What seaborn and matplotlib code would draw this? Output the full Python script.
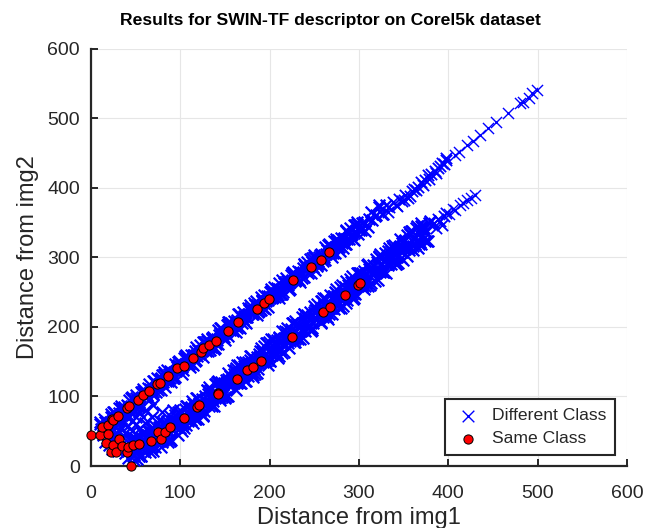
import matplotlib
matplotlib.use("Agg")
import matplotlib.pyplot as plt
import pandas as pd
import seaborn as sns

# "Different Class" pairs, upper band (several passes along the band)
upper_x = [10, 14, 18, 22, 26, 30, 34, 38, 42, 46, 50, 54, 58, 62, 66, 70, 74, 78, 82, 86,
           90, 94, 98, 102, 106, 110, 114, 118, 122, 126, 130, 134, 138, 142, 146, 150, 154, 158, 162, 166,
           170, 174, 178, 182, 186, 190, 194, 198, 202, 206, 210, 214, 218, 222, 226, 230, 234, 238, 242, 246,
           250, 254, 258, 262, 266, 270, 274, 278, 282, 286, 290, 294, 298, 302, 306, 310, 314, 318, 322, 326, 330]
upper_y = [60, 51, 63, 56, 78, 71, 84, 75, 87, 80, 102, 95, 108, 99, 111, 104, 126, 119, 132, 123,
           135, 128, 150, 143, 156, 147, 159, 152, 174, 167, 180, 171, 183, 176, 198, 191, 204, 195, 207, 200,
           222, 215, 228, 219, 231, 224, 246, 239, 252, 243, 255, 248, 270, 263, 276, 267, 279, 272, 294, 287,
           300, 291, 303, 296, 318, 311, 324, 315, 327, 320, 342, 335, 348, 339, 351, 344, 366, 359, 372, 363, 375]

upper2_x = [12, 16, 20, 24, 28, 32, 36, 40, 44, 48, 52, 56, 60, 64, 68, 72, 76, 80, 84, 88,
            92, 96, 100, 104, 108, 112, 116, 120, 124, 128, 132, 136, 140, 144, 148, 152, 156, 160, 164, 168,
            172, 176, 180, 184, 188, 192, 196, 200, 204, 208, 212, 216, 220, 224, 228, 232, 236, 240, 244, 248,
            252, 256, 260, 264, 268, 272, 276, 280, 284, 288, 292, 296, 300]
upper2_y = [51, 64, 55, 71, 70, 83, 75, 88, 79, 95, 94, 107, 99, 112, 103, 119, 118, 131, 123, 136,
            127, 143, 142, 155, 147, 160, 151, 167, 166, 179, 171, 184, 175, 191, 190, 203, 195, 208, 199, 215,
            214, 227, 219, 232, 223, 239, 238, 251, 243, 256, 247, 263, 262, 275, 267, 280, 271, 287, 286, 299,
            291, 304, 295, 311, 310, 323, 315, 328, 319, 335, 334, 347, 339]

upper3_x = [11, 15, 19, 23, 27, 31, 35, 39, 43, 47, 51, 55, 59, 63, 67, 71, 75, 79, 83, 87,
            91, 95, 99, 103, 107, 111, 115, 119, 123, 127, 131, 135, 139, 143, 147, 151, 155, 159, 163, 167,
            171, 175, 179, 183, 187, 191, 195, 199, 203, 207, 211, 215, 219, 223, 227, 231, 235, 239, 243, 247,
            251, 255, 259, 263, 267, 271, 275, 279, 283, 287, 291, 295, 299, 303, 307, 311, 315, 319, 323, 327]
upper3_y = [53, 67, 54, 70, 58, 76, 74, 81, 95, 82, 98, 86, 104, 102, 109, 123, 110, 126, 114, 132,
            130, 137, 151, 138, 154, 142, 160, 158, 165, 179, 166, 182, 170, 188, 186, 193, 207, 194, 210, 198,
            216, 214, 221, 235, 222, 238, 226, 244, 242, 249, 263, 250, 266, 254, 272, 270, 277, 291, 278, 294,
            282, 300, 298, 305, 319, 306, 322, 310, 328, 326, 333, 347, 334, 350, 338, 356, 354, 361, 375, 362]

upper4_x = [13, 17, 21, 25, 29, 33, 37, 41, 45, 49, 53, 57, 61, 65, 69, 73, 77, 81, 85, 89,
            93, 97, 101, 105, 109, 113, 117, 121, 125, 129, 133, 137, 141, 145, 149, 153, 157, 161, 165, 169,
            173, 177, 181, 185, 189, 193, 197, 201, 205, 209, 213, 217, 221, 225, 229, 233, 237, 241, 245, 249,
            253, 257, 261, 265, 269, 273, 277, 281, 285, 289, 293, 297, 301]
upper4_y = [47, 65, 61, 78, 66, 67, 85, 81, 98, 86, 87, 105, 101, 118, 106, 107, 125, 121, 138, 126,
            127, 145, 141, 158, 146, 147, 165, 161, 178, 166, 167, 185, 181, 198, 186, 187, 205, 201, 218, 206,
            207, 225, 221, 238, 226, 227, 245, 241, 258, 246, 247, 265, 261, 278, 266, 267, 285, 281, 298, 286,
            287, 305, 301, 318, 306, 307, 325, 321, 338, 326, 327, 345, 341]

upper5_x = [10, 14, 18, 22, 26, 30, 34, 38, 42, 46, 50, 54, 58, 62, 66, 70, 74, 78, 82, 86,
            90, 94, 98, 102, 106, 110, 114, 118, 122, 126, 130, 134, 138, 142, 146, 150, 154, 158, 162, 166,
            170, 174, 178, 182, 186, 190, 194, 198, 202, 206, 210, 214, 218, 222, 226, 230, 234, 238, 242, 246,
            250, 254, 258, 262, 266, 270, 274, 278, 282, 286, 290, 294, 298]
upper5_y = [63, 55, 49, 75, 67, 61, 87, 79, 73, 99, 91, 85, 111, 103, 97, 123, 115, 109, 135, 127,
            121, 147, 139, 133, 159, 151, 145, 171, 163, 157, 183, 175, 169, 195, 187, 181, 207, 199, 193, 219,
            211, 205, 231, 223, 217, 243, 235, 229, 255, 247, 241, 267, 259, 253, 279, 271, 265, 291, 283, 277,
            303, 295, 289, 315, 307, 301, 327, 319, 313, 339, 331, 325, 351]

# upper band beyond x = 330: still packed up to about 400, then single crosses
upper_mid_x = [332, 334, 338, 341, 343, 345, 348, 350, 352, 355, 357, 359, 362, 364, 366, 370, 372, 374,
               377, 379, 381, 385, 386, 388, 391, 393, 395, 398, 398]
upper_mid_y = [365, 372, 380, 376, 374, 384, 381, 383, 390, 386, 389, 395, 399, 397, 402, 408, 404, 412,
               418, 413, 420, 425, 421, 428, 432, 436, 434, 440, 443]
upper_tail_x = [407, 412, 421, 428, 435, 444, 454, 467, 480, 484, 490, 494, 499]
upper_tail_y = [447, 452, 462, 468, 476, 486, 495, 508, 522, 524, 530, 537, 541]

# "Different Class" pairs, lower band (several passes along the band)
lower_x = [44, 48, 52, 56, 60, 64, 68, 72, 76, 80, 84, 88, 92, 96, 100, 104, 108, 112, 116, 120,
           124, 128, 132, 136, 140, 144, 148, 152, 156, 160, 164, 168, 172, 176, 180, 184, 188, 192, 196, 200,
           204, 208, 212, 216, 220, 224, 228, 232, 236, 240, 244, 248, 252, 256, 260, 264, 268, 272, 276, 280,
           284, 288, 292, 296, 300, 304, 308, 312, 316, 320, 324, 328, 332, 336, 340, 344, 348, 352, 356, 360,
           364, 368, 372, 376, 380]
lower_y = [38, 16, 33, 15, 42, 31, 54, 27, 56, 34, 52, 36, 65, 56, 81, 55, 86, 66, 84, 68,
           97, 88, 113, 87, 118, 98, 116, 100, 129, 120, 145, 119, 150, 130, 148, 132, 161, 152, 177, 151,
           182, 162, 180, 164, 193, 184, 209, 183, 214, 194, 212, 196, 225, 216, 241, 215, 246, 226, 244, 228,
           257, 248, 273, 247, 278, 258, 276, 260, 289, 280, 305, 279, 310, 290, 308, 292, 321, 312, 337, 311,
           342, 322, 340, 324, 353]

lower2_x = [46, 50, 54, 58, 62, 66, 70, 74, 78, 82, 86, 90, 94, 98, 102, 106, 110, 114, 118, 122,
            126, 130, 134, 138, 142, 146, 150, 154, 158, 162, 166, 170, 174, 178, 182, 186, 190, 194, 198, 202,
            206, 210, 214, 218, 222, 226, 230, 234, 238, 242, 246, 250, 254, 258, 262, 266, 270, 274, 278, 282,
            286, 290, 294, 298, 302, 306, 310, 314, 318, 322, 326, 330, 334, 338, 342, 346, 350, 354, 358, 362,
            366, 370, 374, 378]
lower2_y = [19, 39, 15, 39, 33, 51, 30, 43, 37, 57, 35, 61, 57, 77, 57, 72, 68, 89, 67, 93,
            89, 109, 89, 104, 100, 121, 99, 125, 121, 141, 121, 136, 132, 153, 131, 157, 153, 173, 153, 168,
            164, 185, 163, 189, 185, 205, 185, 200, 196, 217, 195, 221, 217, 237, 217, 232, 228, 249, 227, 253,
            249, 269, 249, 264, 260, 281, 259, 285, 281, 301, 281, 296, 292, 313, 291, 317, 313, 333, 313, 328,
            324, 345, 323, 349]

lower3_x = [45, 49, 53, 57, 61, 65, 69, 73, 77, 81, 85, 89, 93, 97, 101, 105, 109, 113, 117, 121,
            125, 129, 133, 137, 141, 145, 149, 153, 157, 161, 165, 169, 173, 177, 181, 185, 189, 193, 197, 201,
            205, 209, 213, 217, 221, 225, 229, 233, 237, 241, 245, 249, 253, 257, 261, 265, 269, 273, 277, 281,
            285, 289, 293, 297, 301, 305, 309, 313, 317, 321, 325, 329, 333, 337, 341, 345, 349, 353, 357, 361,
            365, 369, 373, 377]
lower3_y = [25, 40, 21, 47, 20, 42, 21, 40, 55, 37, 65, 39, 63, 44, 65, 82, 65, 93, 67, 91,
            72, 93, 110, 93, 121, 95, 119, 100, 121, 138, 121, 149, 123, 147, 128, 149, 166, 149, 177, 151,
            175, 156, 177, 194, 177, 205, 179, 203, 184, 205, 222, 205, 233, 207, 231, 212, 233, 250, 233, 261,
            235, 259, 240, 261, 278, 261, 289, 263, 287, 268, 289, 306, 289, 317, 291, 315, 296, 317, 334, 317,
            345, 319, 343, 324]

lower4_x = [47, 51, 55, 59, 63, 67, 71, 75, 79, 83, 87, 91, 95, 99, 103, 107, 111, 115, 119, 123,
            127, 131, 135, 139, 143, 147, 151, 155, 159, 163, 167, 171, 175, 179, 183, 187, 191, 195, 199, 203,
            207, 211, 215, 219, 223, 227, 231, 235, 239, 243, 247, 251, 255, 259, 263, 267, 271, 275, 279, 283,
            287, 291, 295, 299, 303, 307, 311, 315, 319, 323, 327, 331, 335, 339, 343, 347, 351, 355, 359, 363,
            367, 371, 375]
lower4_y = [14, 37, 27, 47, 28, 25, 48, 38, 58, 40, 39, 64, 56, 78, 60, 59, 84, 76, 98, 80,
            79, 104, 96, 118, 100, 99, 124, 116, 138, 120, 119, 144, 136, 158, 140, 139, 164, 156, 178, 160,
            159, 184, 176, 198, 180, 179, 204, 196, 218, 200, 199, 224, 216, 238, 220, 219, 244, 236, 258, 240,
            239, 264, 256, 278, 260, 259, 284, 276, 298, 280, 279, 304, 296, 318, 300, 299, 324, 316, 338, 320,
            319, 344, 336]

lower5_x = [46, 50, 54, 58, 62, 66, 70, 74, 78, 82, 86, 90, 94, 98, 102, 106, 110, 114, 118, 122,
            126, 130, 134, 138, 142, 146, 150, 154, 158, 162, 166, 170, 174, 178, 182, 186, 190, 194, 198, 202,
            206, 210, 214, 218, 222, 226, 230, 234, 238, 242, 246, 250, 254, 258, 262, 266, 270, 274, 278, 282,
            286, 290, 294, 298, 302, 306, 310, 314, 318, 322, 326, 330, 334, 338, 342, 346, 350, 354, 358, 362,
            366, 370, 374]
lower5_y = [41, 28, 14, 48, 34, 20, 55, 41, 27, 62, 50, 38, 74, 62, 50, 86, 74, 62, 98, 86,
            74, 110, 98, 86, 122, 110, 98, 134, 122, 110, 146, 134, 122, 158, 146, 134, 170, 158, 146, 182,
            170, 158, 194, 182, 170, 206, 194, 182, 218, 206, 194, 230, 218, 206, 242, 230, 218, 254, 242, 230,
            266, 254, 242, 278, 266, 254, 290, 278, 266, 302, 290, 278, 314, 302, 290, 326, 314, 302, 338, 326,
            314, 350, 338]

lower6_x = [48, 52, 56, 60, 64, 68, 72, 76, 80, 84, 88, 92, 96, 100, 104, 108, 112, 116, 120, 124,
            128, 132, 136, 140, 144, 148, 152, 156, 160, 164, 168, 172, 176, 180, 184, 188, 192, 196, 200, 204,
            208, 212, 216, 220, 224, 228, 232, 236, 240, 244, 248, 252, 256, 260, 264, 268, 272, 276, 280, 284,
            288, 292, 296, 300, 304, 308, 312, 316, 320, 324, 328, 332, 336, 340, 344, 348, 352, 356, 360, 364,
            368, 372]
lower6_y = [35, 20, 35, 29, 44, 28, 44, 38, 53, 39, 56, 52, 69, 55, 72, 68, 85, 71, 88, 84,
            101, 87, 104, 100, 117, 103, 120, 116, 133, 119, 136, 132, 149, 135, 152, 148, 165, 151, 168, 164,
            181, 167, 184, 180, 197, 183, 200, 196, 213, 199, 216, 212, 229, 215, 232, 228, 245, 231, 248, 244,
            261, 247, 264, 260, 277, 263, 280, 276, 293, 279, 296, 292, 309, 295, 312, 308, 325, 311, 328, 324,
            341, 327]

lower_mid_x = [384, 386, 388, 391, 393, 395, 398]
lower_mid_y = [350, 343, 355, 352, 347, 360, 364]
lower_tail_x = [401, 405, 408, 413, 417, 421, 425, 430]
lower_tail_y = [362, 370, 368, 376, 378, 383, 386, 390]

# "Different Class" pairs near the origin (bottom of the V and its inside)
origin_x = [20, 24, 28, 30, 34, 36, 38, 40, 42, 44, 26, 32, 18, 14, 22, 55, 60, 64, 68, 72,
            76, 80, 84, 88, 62, 58, 70, 50, 46, 52, 92, 78, 48, 52, 56, 16, 22, 28, 34, 38,
            42, 46, 50, 54, 36, 40, 30]
origin_y = [30, 25, 35, 22, 30, 42, 18, 28, 12, 36, 45, 50, 40, 45, 50, 55, 62, 50, 70, 58,
            66, 78, 62, 72, 80, 70, 88, 60, 50, 45, 80, 52, 8, 10, 14, 35, 38, 44, 55, 48,
            58, 65, 70, 78, 62, 70, 60]

# "Same Class" pairs
same_x = [0, 10, 12, 19, 19, 24, 25, 30, 40, 43, 53, 58, 65, 74, 77, 86, 96, 104, 114, 123,
          125, 132, 140, 154, 165, 186, 194, 199, 226, 246, 257, 266,
          17, 23, 25, 28, 32, 35, 40, 41, 45, 47, 54, 67, 75, 79, 83, 88, 104, 119,
          121, 142, 142, 163, 175, 182, 190, 225, 260, 268, 284, 299, 301]
same_y = [45, 45, 56, 59, 46, 67, 66, 72, 83, 86, 95, 102, 108, 118, 119, 129, 141, 144, 155, 164,
          170, 174, 180, 194, 207, 226, 234, 240, 268, 286, 297, 308,
          33, 20, 30, 20, 39, 29, 20, 27, 0, 30, 32, 36, 49, 39, 49, 56, 69, 85,
          88, 105, 103, 125, 138, 142, 151, 185, 221, 229, 246, 260, 263]

dense = pd.DataFrame({
    "x": (upper_x + upper2_x + upper3_x + upper4_x + upper5_x
          + lower_x + lower2_x + lower3_x + lower4_x + lower5_x + lower6_x + origin_x),
    "y": (upper_y + upper2_y + upper3_y + upper4_y + upper5_y
          + lower_y + lower2_y + lower3_y + lower4_y + lower5_y + lower6_y + origin_y),
})
mid = pd.DataFrame({"x": upper_mid_x + lower_mid_x, "y": upper_mid_y + lower_mid_y})
tails = pd.DataFrame({"x": upper_tail_x + lower_tail_x, "y": upper_tail_y + lower_tail_y})
same = pd.DataFrame({"x": same_x, "y": same_y})

sns.set_theme(style="whitegrid")
plt.rcParams["font.family"] = ["Liberation Sans", "DejaVu Sans"]
dark = "#262626"

fig = plt.figure(figsize=(6.54, 5.28), dpi=100)
ax = fig.add_axes([0.139, 0.1174, 0.8196, 0.790])

sns.scatterplot(data=dense, x="x", y="y", marker="x", color="blue", s=70, linewidth=1.6,
                label="Different Class", ax=ax, zorder=3)
sns.scatterplot(data=mid, x="x", y="y", marker="x", color="blue", s=66, linewidth=1.3,
                ax=ax, zorder=3)
sns.scatterplot(data=tails, x="x", y="y", marker="x", color="blue", s=64, linewidth=1.0,
                ax=ax, zorder=3)
sns.scatterplot(data=same, x="x", y="y", marker="o", color="red", edgecolor="black", s=44,
                linewidth=0.7, label="Same Class", ax=ax, zorder=4, clip_on=False)

ax.set_xlim(0, 600)
ax.set_ylim(0, 600)
ax.set_xticks(range(0, 601, 100))
ax.set_yticks(range(0, 601, 100))
ax.grid(True, color="#e6e6e6", linewidth=0.8)
ax.set_facecolor("white")
for side in ["top", "right"]:
    ax.spines[side].set_visible(False)
for side in ["left", "bottom"]:
    ax.spines[side].set_visible(True)
    ax.spines[side].set_color(dark)
    ax.spines[side].set_linewidth(1.6)
ax.tick_params(direction="in", length=5, width=1.4, colors=dark, labelsize=14,
               left=True, bottom=True, top=False, right=False)
ax.tick_params(axis="x", pad=14)
ax.tick_params(axis="y", pad=8)

ax.set_xlabel("Distance from img1", fontsize=17, color=dark, labelpad=3)
ax.set_ylabel("Distance from img2", fontsize=17, color=dark, labelpad=6)
fig.suptitle("Results for SWIN-TF descriptor on Corel5k dataset", fontsize=12.6,
             fontweight="bold", color="black", x=0.505, y=0.962, va="center")

handles, labels = ax.get_legend_handles_labels()
leg = ax.legend(handles[:1] + handles[-1:], ["Different Class", "Same Class"],
                loc="lower right", bbox_to_anchor=(0.978, 0.026), borderaxespad=0,
                frameon=True, fancybox=False, edgecolor=dark, framealpha=1, fontsize=12.6,
                borderpad=0.5, handletextpad=0.6, handlelength=1.6, labelspacing=0.45)
leg.get_frame().set_linewidth(1.5)
leg.legend_handles[0].set_linewidth(1.0)

fig.savefig("out.png", dpi=100)
